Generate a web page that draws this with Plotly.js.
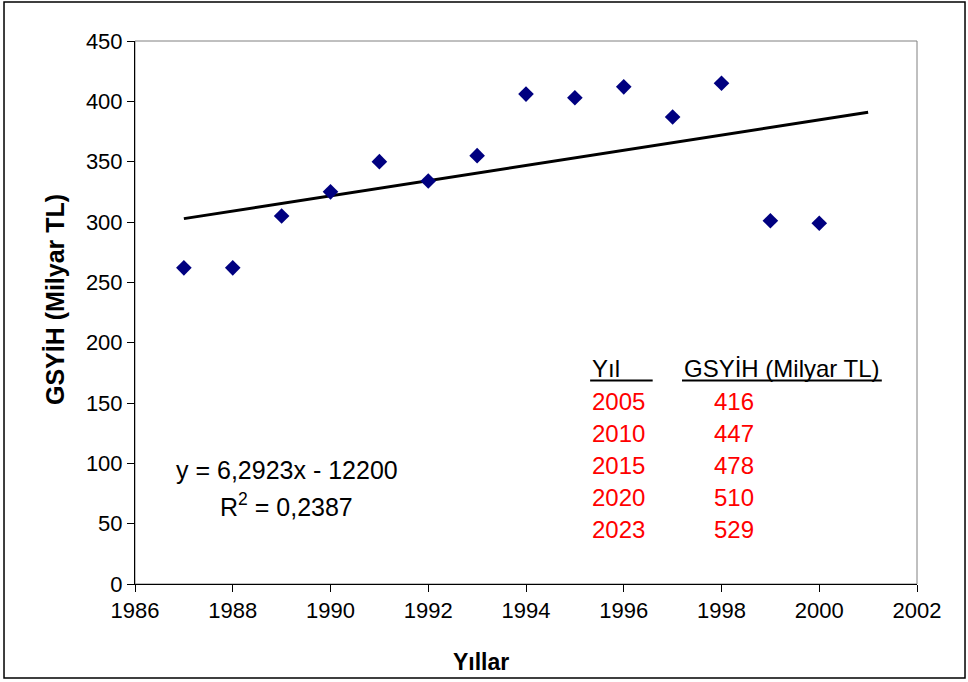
<!DOCTYPE html>
<html>
<head>
<meta charset="utf-8">
<script src="https://cdn.plot.ly/plotly-3.0.1.min.js"></script>
<style>
html,body{margin:0;padding:0;background:#fff;}
#chart{width:968px;height:682px;}
</style>
</head>
<body>
<div id="chart"></div>
<script>
// Data
const years = [1987, 1988, 1989, 1990, 1991, 1992, 1993, 1994, 1995, 1996, 1997, 1998, 1999, 2000];
const gdp = [262, 262, 305, 325, 350, 334, 355, 406, 403, 412, 387, 415, 301, 299];

// Trendline (from the displayed equation y = 6,2923x - 12200)
const trendSlope = 6.2923;
const trendIntercept = -12200;
const trendYears = [1987, 2001];

// Projection table
const tableYears = ['2005', '2010', '2015', '2020', '2023'];
const tableValues = ['416', '447', '478', '510', '529'];

const xTicks = [1986, 1988, 1990, 1992, 1994, 1996, 1998, 2000, 2002];
const yTicks = [0, 50, 100, 150, 200, 250, 300, 350, 400, 450];

const FONT = 'Liberation Sans, Arial, sans-serif';

const traces = [
  {
    x: trendYears,
    y: trendYears.map(t => trendSlope * t + trendIntercept),
    mode: 'lines',
    line: {color: '#000000', width: 3},
    hoverinfo: 'skip',
    showlegend: false
  },
  {
    x: years,
    y: gdp,
    mode: 'markers',
    marker: {symbol: 'diamond', color: '#000080', size: 12},
    showlegend: false
  }
];

const annotations = [];
// axis titles (centred on chart area, as in Excel)
annotations.push({xref: 'paper', yref: 'paper', x: 0.4425, y: -0.1436, text: '<b>Yıllar</b>',
  showarrow: false, xanchor: 'center', yanchor: 'middle', font: {family: FONT, size: 23, color: '#000'}});
annotations.push({xref: 'paper', yref: 'paper', x: -0.1023, y: 0.523, text: '<b>GSYİH (Milyar TL)</b>',
  textangle: -90, showarrow: false, xanchor: 'center', yanchor: 'middle', font: {family: FONT, size: 25, color: '#000'}});
// equation
annotations.push({xref: 'paper', yref: 'paper', x: 0.194, y: 0.21, text: 'y = 6,2923x - 12200',
  showarrow: false, xanchor: 'center', yanchor: 'middle', font: {family: FONT, size: 25, color: '#000'}});
annotations.push({xref: 'paper', yref: 'paper', x: 0.194, y: 0.145, text: 'R<sup>2</sup> = 0,2387',
  showarrow: false, xanchor: 'center', yanchor: 'middle', font: {family: FONT, size: 25, color: '#000'}});
// table header
annotations.push({xref: 'paper', yref: 'paper', x: 0.582, y: 0.396, text: 'Yıl',
  showarrow: false, xanchor: 'left', yanchor: 'middle', font: {family: FONT, size: 24, color: '#000'}});
annotations.push({xref: 'paper', yref: 'paper', x: 0.6995, y: 0.396, text: 'GSYİH (Milyar TL)',
  showarrow: false, xanchor: 'left', yanchor: 'middle', font: {family: FONT, size: 24, color: '#000'}});
const rowY = [0.337, 0.278, 0.219, 0.160, 0.101];
tableYears.forEach((yr, i) => {
  annotations.push({xref: 'paper', yref: 'paper', x: 0.582, y: rowY[i], text: yr,
    showarrow: false, xanchor: 'left', yanchor: 'middle', font: {family: FONT, size: 24, color: '#ff0000'}});
  annotations.push({xref: 'paper', yref: 'paper', x: 0.738, y: rowY[i], text: tableValues[i],
    showarrow: false, xanchor: 'left', yanchor: 'middle', font: {family: FONT, size: 24, color: '#ff0000'}});
});

const shapes = [
  // plot area frame (grey top/right)
  {type: 'rect', xref: 'paper', yref: 'paper', x0: 0, x1: 1, y0: 0, y1: 1,
   line: {color: '#808080', width: 1}, layer: 'below'},
  // outer chart border
  {type: 'rect', xref: 'paper', yref: 'paper', x0: -0.1675, x1: 1.0614, y0: -0.173, y1: 1.0718,
   line: {color: '#000', width: 1.5}},
  // header underlines
  {type: 'line', xref: 'paper', yref: 'paper', x0: 0.582, x1: 0.662, y0: 0.375, y1: 0.375,
   line: {color: '#000', width: 2}},
  {type: 'line', xref: 'paper', yref: 'paper', x0: 0.6995, x1: 0.955, y0: 0.375, y1: 0.375,
   line: {color: '#000', width: 2}}
];

const layout = {
  width: 968, height: 682,
  margin: {l: 135, r: 51, t: 41, b: 98},
  paper_bgcolor: '#fff', plot_bgcolor: '#fff',
  showlegend: false,
  xaxis: {
    range: [1986, 2002], tickvals: xTicks, ticktext: xTicks.map(String),
    showgrid: false, zeroline: false, showline: true, linecolor: '#000', linewidth: 1,
    ticks: 'outside', ticklen: 7, tickcolor: '#000', tickwidth: 1,
    tickfont: {family: FONT, size: 22, color: '#000'}
  },
  yaxis: {
    range: [0, 450], tickvals: yTicks, ticktext: yTicks.map(String),
    showgrid: false, zeroline: false, showline: true, linecolor: '#000', linewidth: 1,
    ticks: 'outside', ticklen: 7, tickcolor: '#000', tickwidth: 1,
    tickfont: {family: FONT, size: 22, color: '#000'}
  },
  annotations: annotations,
  shapes: shapes
};

Plotly.newPlot('chart', traces, layout, {displayModeBar: false, staticPlot: true});
</script>
</body>
</html>
